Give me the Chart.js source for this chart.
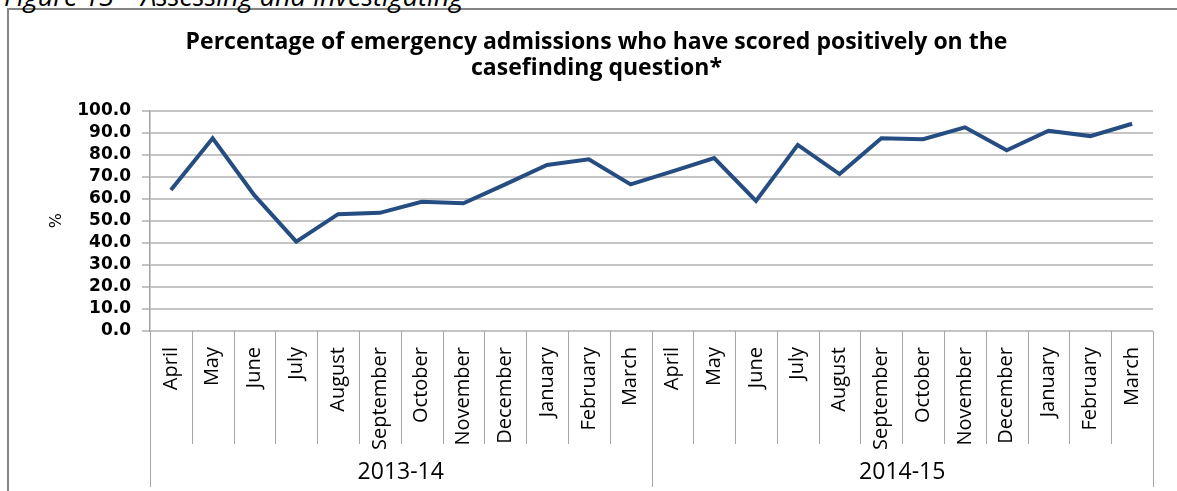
<!DOCTYPE html>
<html>
<head>
<meta charset="utf-8">
<script src="https://cdn.jsdelivr.net/npm/chart.js@4.4.1/dist/chart.umd.min.js"></script>
<style>
  html, body { margin: 0; padding: 0; background: #fff; overflow: hidden; }
  #wrap { position: relative; width: 1177px; height: 491px; overflow: hidden; }
  #frame { position: absolute; left: 7px; top: 8px; width: 1300px; height: 600px;
           border: 2px solid #858585; box-sizing: border-box; }
  #caption { position: absolute; left: 4px; top: -18px; white-space: nowrap;
             font: italic 27px/27px "Open Sans", sans-serif; color: #000; }
  canvas { position: absolute; left: 0; top: 0; }
</style>
</head>
<body>
<div id="wrap">
  <div id="frame"></div>
  <div id="caption">Figure 13 – Assessing and investigating</div>
  <canvas id="chart" width="1177" height="491"></canvas>
</div>
<script>
// Monthly categories, grouped by financial year
const months = [
  'April', 'May', 'June', 'July', 'August', 'September', 'October', 'November',
  'December', 'January', 'February', 'March',
  'April', 'May', 'June', 'July', 'August', 'September', 'October', 'November',
  'December', 'January', 'February', 'March'
];
const years = ['2013-14', '2014-15'];
const monthsPerYear = 12;

// Percentage scoring positively on the casefinding question
const positivePct = [
  64.0, 87.4, 61.5, 40.5, 53.0, 53.6, 58.6, 57.9, 66.5, 75.3, 77.9, 66.5,
  72.4, 78.4, 59.0, 84.4, 71.2, 87.4, 87.0, 92.4, 82.0, 90.8, 88.4, 94.0
];

const titleLines = [
  'Percentage of emergency admissions who have scored positively on the',
  'casefinding question*'
];
const yAxisLabel = '%';

// Draws the category separators and the year row beneath the month labels
const yearGroups = {
  id: 'yearGroups',
  afterDraw(chart) {
    const x = chart.scales.x;
    const ctx = chart.ctx;
    const base = chart.chartArea.bottom;
    const half = (x.getPixelForValue(1) - x.getPixelForValue(0)) / 2;
    ctx.save();
    ctx.strokeStyle = '#a6a6a6';
    ctx.lineWidth = 1;
    for (let i = 0; i <= months.length; i++) {
      const px = Math.round(x.getPixelForValue(i) - half) + 0.5;
      const end = (i % monthsPerYear === 0) ? base + 156 : base + 113;
      ctx.beginPath();
      ctx.moveTo(px, base);
      ctx.lineTo(px, end);
      ctx.stroke();
    }
    ctx.fillStyle = '#000';
    ctx.font = '23px "Open Sans"';
    ctx.textAlign = 'center';
    ctx.textBaseline = 'middle';
    years.forEach((yr, g) => {
      const a = x.getPixelForValue(g * monthsPerYear) - half;
      const b = x.getPixelForValue((g + 1) * monthsPerYear - 1) + half;
      ctx.fillText(yr, (a + b) / 2, base + 141);
    });
    ctx.restore();
  }
};

new Chart(document.getElementById('chart'), {
  type: 'line',
  data: {
    labels: months,
    datasets: [{
      data: positivePct,
      borderColor: '#254d82',
      borderWidth: 4,
      pointRadius: 0,
      tension: 0,
      fill: false
    }]
  },
  options: {
    responsive: false,
    animation: false,
    events: [],
    layout: { padding: { left: 40, right: 24, top: 0, bottom: 0 } },
    plugins: {
      legend: { display: false },
      tooltip: { enabled: false },
      title: {
        display: true,
        text: titleLines,
        color: '#000',
        font: { family: 'Open Sans', size: 23, weight: 'bold', lineHeight: 1.12 },
        padding: { top: 30, bottom: 29 }
      }
    },
    scales: {
      x: {
        type: 'category',
        offset: true,
        grid: { display: false },
        border: { display: false },
        ticks: {
          autoSkip: false,
          maxRotation: 90,
          minRotation: 90,
          padding: 8,
          color: '#000',
          font: { family: 'Open Sans', size: 20 }
        },
        afterFit(scale) { scale.height = 160; }
      },
      y: {
        min: 0,
        max: 100,
        ticks: {
          stepSize: 10,
          autoSkip: false,
          padding: 11,
          color: '#000',
          font: { family: 'DejaVu Sans', size: 17, weight: 'bold' },
          callback: v => v.toFixed(1)
        },
        grid: { color: '#c4c4c4', lineWidth: 2, tickLength: 8 },
        border: { color: '#a0a0a0', width: 1.5 },
        title: {
          display: true,
          text: yAxisLabel,
          color: '#000',
          font: { family: 'DejaVu Sans', size: 16 },
          padding: { top: 7, bottom: 0 }
        },
        afterFit(scale) { scale.width = 110; }
      }
    }
  },
  plugins: [yearGroups]
});
</script>
</body>
</html>
